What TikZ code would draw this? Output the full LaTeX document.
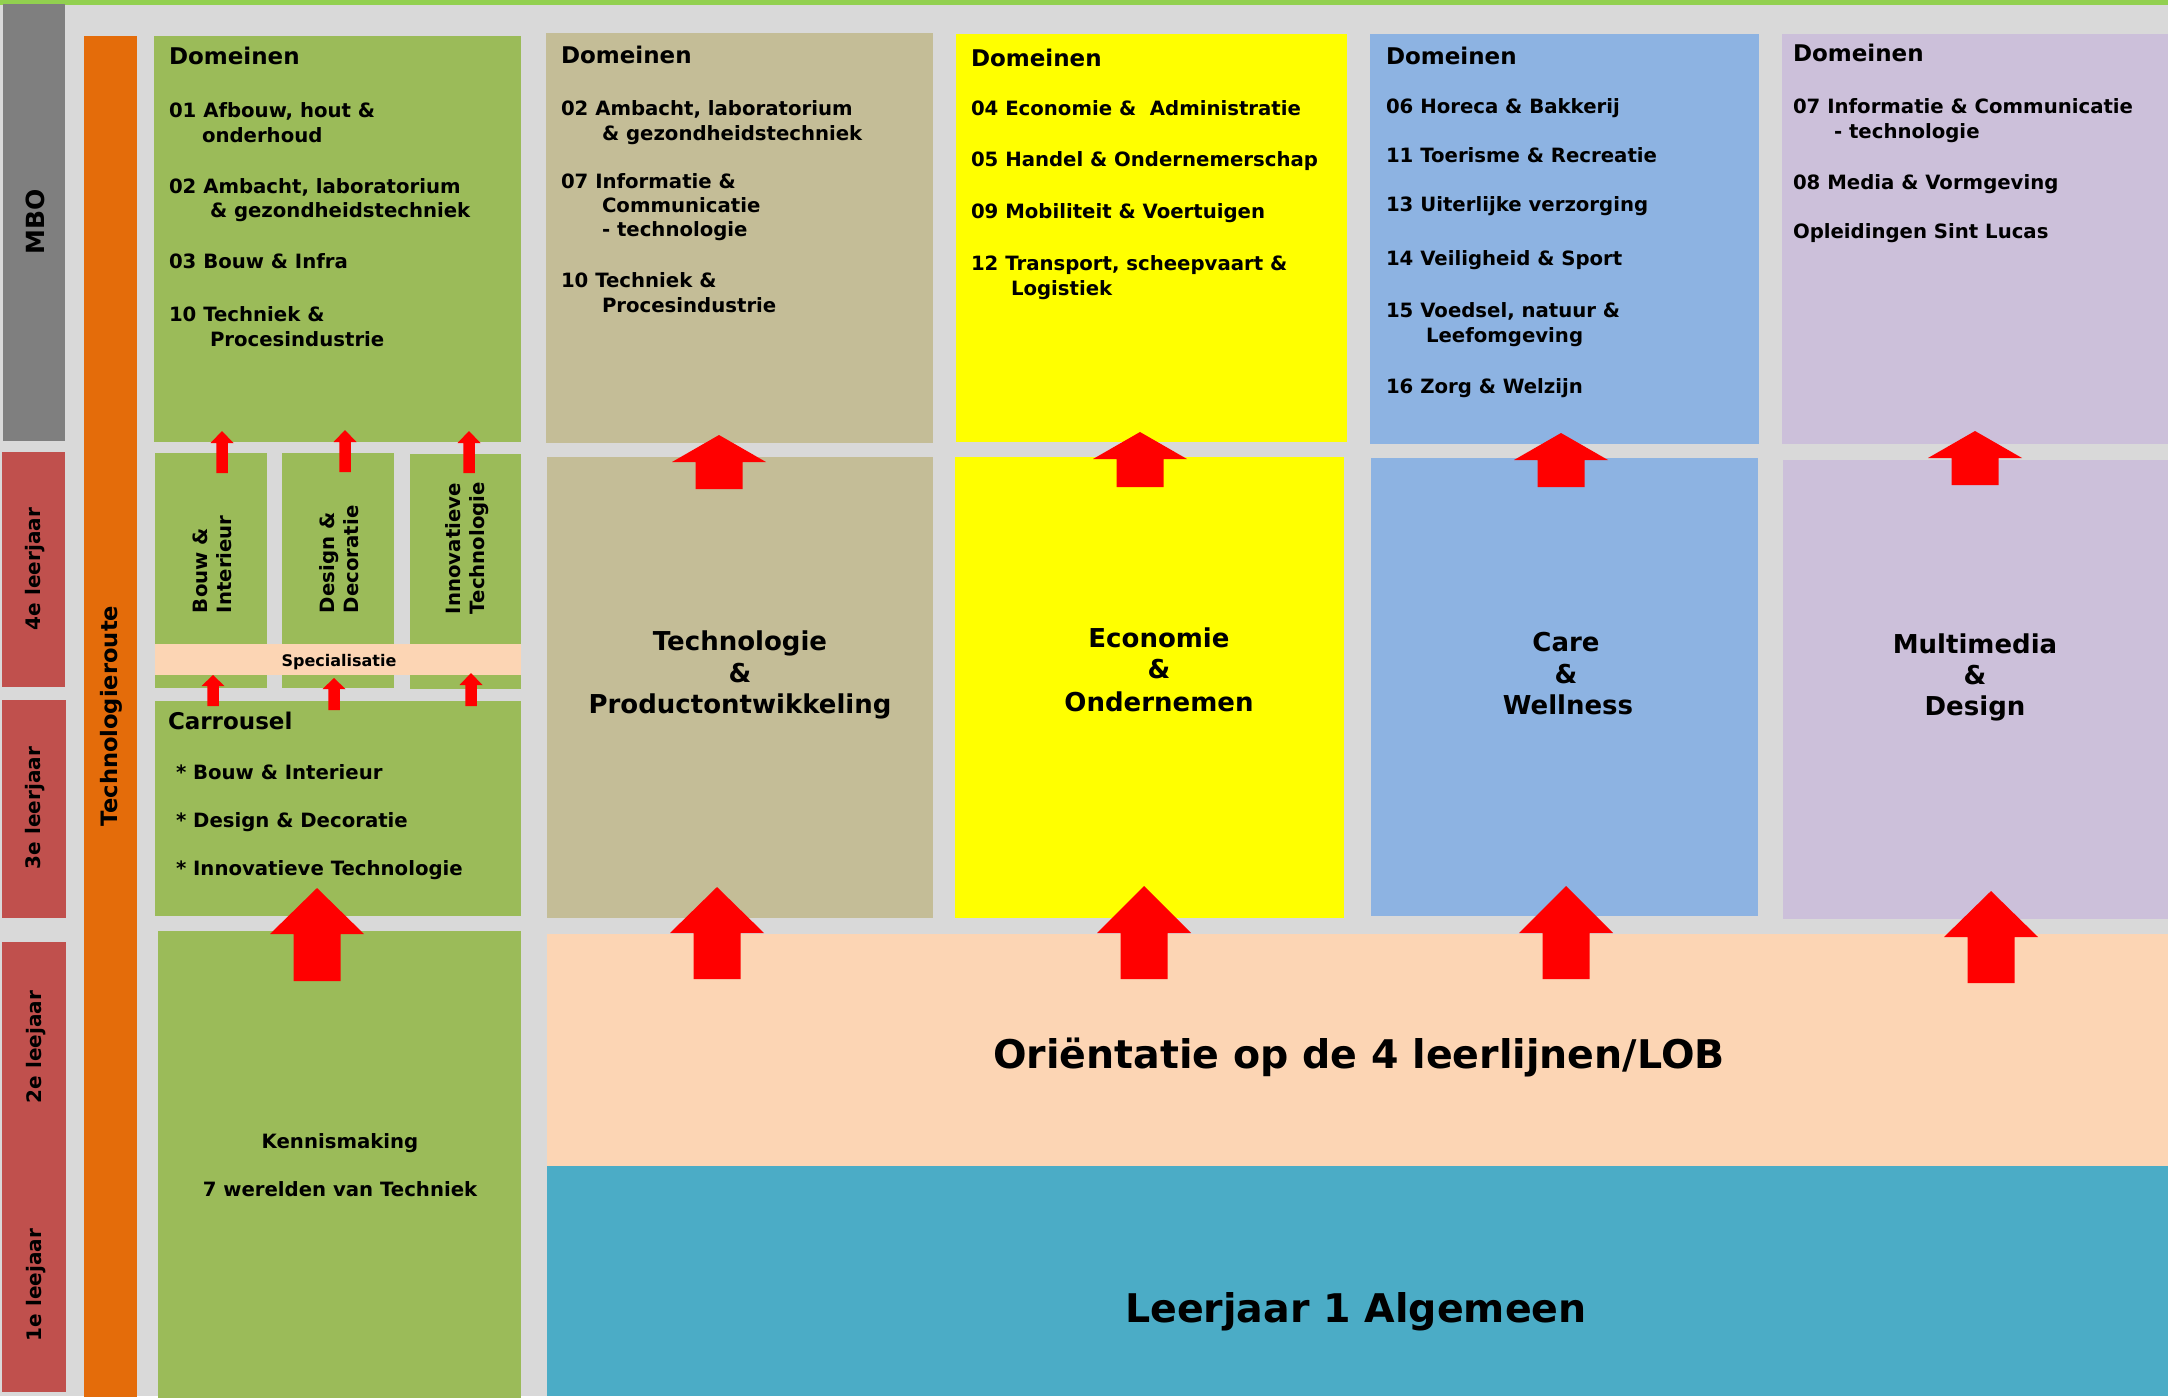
\documentclass[tikz,border=0pt]{standalone}
\usepackage{fontspec}
\setmainfont{DejaVu Sans}
\definecolor{bggray}{HTML}{D9D9D9}
\definecolor{topgreen}{HTML}{92D050}
\definecolor{mbogray}{HTML}{7F7F7F}
\definecolor{labred}{HTML}{C0504D}
\definecolor{routeor}{HTML}{E46C0A}
\definecolor{grn}{HTML}{9BBB59}
\definecolor{tan}{HTML}{C4BD97}
\definecolor{yel}{HTML}{FFFF00}
\definecolor{blu}{HTML}{8DB3E2}
\definecolor{lil}{HTML}{CCC0DA}
\definecolor{peach}{HTML}{FCD5B4}
\definecolor{teal}{HTML}{4BACC6}
\definecolor{arrred}{HTML}{FF0000}
\tikzset{
  blk/.style={inner sep=0pt, outer sep=0pt, draw=none},
  txt/.style={inner sep=0pt, outer sep=0pt, text=black, font=\bfseries\fontsize{19.7}{24}\selectfont},
  hdr/.style={txt, font=\bfseries\fontsize{23}{28}\selectfont},
  spc/.style={txt, font=\bfseries\fontsize{16}{19}\selectfont},
  bigt/.style={txt, font=\bfseries\fontsize{26}{31}\selectfont},
  hugetxt/.style={txt, font=\bfseries\fontsize{39.5}{46}\selectfont},
  arrowfill/.style={fill=arrred, draw=none},
}
% box: name, colour, x1, y1, x2, y2
\newcommand\blk[6]{\node[blk, fill=#2, minimum width={(#5)-(#3)}, minimum height={(#6)-(#4)}, anchor=north west] (#1) at (#3,#4) {};}
% left aligned text line: style, name, x, baseline y, text
\newcommand\txtline[5]{\node[#1, anchor=base west] (#2) at (#3,#4) {#5};}
% centred text line
\newcommand\ctxtline[5]{\node[#1, anchor=base] (#2) at (#3,#4) {#5};}
% block arrow: name, x, tip y, head base y, bottom y, head half width, shaft half width
\newcommand\blockarrow[7]{%
  \coordinate (#1-tip) at (#2,#3);
  \coordinate (#1-foot) at (#2,#5);
  \fill[arrowfill] (#1-tip) -- (#2+#6,#4) -- (#2+#7,#4) -- (#2+#7,#5) -- (#1-foot) -- (#2-#7,#5) -- (#2-#7,#4) -- (#2-#6,#4) -- cycle;}
\begin{document}
\begin{tikzpicture}[x=1pt, y=-1pt]
\useasboundingbox (0,0) rectangle (2168,1398);
\fill[bggray] (0,0) rectangle (2168,1396);
\fill[topgreen] (0,0) rectangle (2168,5);

% boxes
\blk{mbo}{mbogray}{3}{4}{65}{441}
\blk{y4}{labred}{2}{452}{65}{687}
\blk{y3}{labred}{2}{700}{66}{918}
\blk{y12}{labred}{2}{942}{66}{1392}
\blk{route}{routeor}{84}{36}{137}{1397}
\blk{gdom}{grn}{154}{36}{521}{442}
\blk{sbouw}{grn}{155}{453}{267}{688}
\blk{sdesign}{grn}{282}{453}{394}{688}
\blk{sinnov}{grn}{410}{454}{521}{689}
\blk{spec}{peach}{155}{644}{521}{675}
\blk{carr}{grn}{155}{701}{521}{916}
\blk{kenn}{grn}{158}{931}{521}{1398}
\blk{tandom}{tan}{546}{33}{933}{443}
\blk{tanlow}{tan}{547}{457}{933}{918}
\blk{yeldom}{yel}{956}{34}{1347}{442}
\blk{yellow}{yel}{955}{457}{1344}{918}
\blk{bludom}{blu}{1370}{34}{1759}{444}
\blk{blulow}{blu}{1371}{458}{1758}{916}
\blk{lildom}{lil}{1782}{34}{2168}{444}
\blk{lillow}{lil}{1783}{460}{2168}{919}
\blk{orient}{peach}{547}{934}{2168}{1166}
\blk{alg}{teal}{547}{1166}{2168}{1396}

% arrows
\blockarrow{sa1}{222}{431}{443}{473}{11.5}{5.75}
\blockarrow{sa2}{345}{430}{442}{472}{11.5}{5.75}
\blockarrow{sa3}{469}{431}{443}{473}{11.5}{5.75}
\blockarrow{sb1}{213}{675}{686}{706}{11.5}{5.75}
\blockarrow{sb2}{334}{678}{689}{710}{11.5}{5.75}
\blockarrow{sb3}{471}{673}{685}{706}{11.5}{5.75}
\blockarrow{bc}{317}{888}{934}{981}{47}{23.5}
\blockarrow{ta}{719}{435}{462}{489}{47}{23.5}
\blockarrow{ya}{1140}{432}{459}{487}{47}{23.5}
\blockarrow{ba}{1561}{433}{460}{487}{47}{23.5}
\blockarrow{la}{1975}{431}{458}{485}{47}{23.5}
\blockarrow{tb}{717}{887}{933}{979}{47}{23.5}
\blockarrow{yb}{1144}{886}{933}{979}{47}{23.5}
\blockarrow{bb}{1566}{886}{933}{979}{47}{23.5}
\blockarrow{lb}{1991}{891}{937}{983}{47}{23.5}

% side labels
\node[txt, rotate=90, font=\bfseries\fontsize{25}{30}\selectfont] (lmbo) at (35,222) {MBO};
\node[txt, rotate=90, font=\bfseries\fontsize{20}{24}\selectfont] (l4) at (35,569) {4e leerjaar};
\node[txt, rotate=90, font=\bfseries\fontsize{20}{24}\selectfont] (l3) at (35,808) {3e leerjaar};
\node[txt, rotate=90, font=\bfseries\fontsize{20}{24}\selectfont] (l2) at (36,1047) {2e leejaar};
\node[txt, rotate=90, font=\bfseries\fontsize{20}{24}\selectfont] (l1) at (36,1285) {1e leejaar};
\node[txt, rotate=90, font=\bfseries\fontsize{22.6}{26}\selectfont] (lroute) at (111,716) {Technologieroute};

% green domeinen
\txtline{hdr}{g0}{169}{64}{Domeinen}
\txtline{txt}{g1}{169}{117}{01 Afbouw, hout \&}
\txtline{txt}{g1b}{202}{142}{onderhoud}
\txtline{txt}{g2}{169}{193}{02 Ambacht, laboratorium}
\txtline{txt}{g2b}{210}{217}{\& gezondheidstechniek}
\txtline{txt}{g3}{169}{268}{03 Bouw \& Infra}
\txtline{txt}{g4}{169}{321}{10 Techniek \&}
\txtline{txt}{g4b}{210}{346}{Procesindustrie}

% tan domeinen
\txtline{hdr}{t0}{561}{63}{Domeinen}
\txtline{txt}{t1}{561}{115}{02 Ambacht, laboratorium}
\txtline{txt}{t1b}{602}{140}{\& gezondheidstechniek}
\txtline{txt}{t2}{561}{188}{07 Informatie \&}
\txtline{txt}{t2b}{602}{212}{Communicatie}
\txtline{txt}{t2c}{602}{236}{- technologie}
\txtline{txt}{t3}{561}{287}{10 Techniek \&}
\txtline{txt}{t3b}{602}{312}{Procesindustrie}

% yellow domeinen
\txtline{hdr}{e0}{971}{66}{Domeinen}
\txtline{txt}{e1}{971}{115}{04 Economie \&\ \ Administratie}
\txtline{txt}{e2}{971}{166}{05 Handel \& Ondernemerschap}
\txtline{txt}{e3}{971}{218}{09 Mobiliteit \& Voertuigen}
\txtline{txt}{e4}{971}{270}{12 Transport, scheepvaart \&}
\txtline{txt}{e4b}{1011}{295}{Logistiek}

% blue domeinen
\txtline{hdr}{c0}{1386}{64}{Domeinen}
\txtline{txt}{c1}{1386}{113}{06 Horeca \& Bakkerij}
\txtline{txt}{c2}{1386}{162}{11 Toerisme \& Recreatie}
\txtline{txt}{c3}{1386}{211}{13 Uiterlijke verzorging}
\txtline{txt}{c4}{1386}{265}{14 Veiligheid \& Sport}
\txtline{txt}{c5}{1386}{317}{15 Voedsel, natuur \&}
\txtline{txt}{c5b}{1426}{342}{Leefomgeving}
\txtline{txt}{c6}{1386}{393}{16 Zorg \& Welzijn}

% lilac domeinen
\txtline{hdr}{m0}{1793}{61}{Domeinen}
\txtline{txt}{m1}{1793}{113}{07 Informatie \& Communicatie}
\txtline{txt}{m1b}{1834}{138}{- technologie}
\txtline{txt}{m2}{1793}{189}{08 Media \& Vormgeving}
\txtline{txt}{m3}{1793}{238}{Opleidingen Sint Lucas}

% specialisatie sub boxes
\node[txt, rotate=90, align=left, anchor=west] (tbouw) at (212,613) {Bouw \&\\Interieur};
\node[txt, rotate=90, align=left, anchor=west] (tdesign) at (339,613) {Design \&\\Decoratie};
\node[txt, rotate=90, align=left, anchor=west] (tinnov) at (467,614) {Innovatieve\\Technologie};
\ctxtline{spc}{tspec}{339}{666}{Specialisatie}

% carrousel
\txtline{hdr}{k0}{168}{729}{Carrousel}
\txtline{txt}{k1}{176}{779}{* Bouw \& Interieur}
\txtline{txt}{k2}{176}{827}{* Design \& Decoratie}
\txtline{txt}{k3}{176}{875}{* Innovatieve Technologie}

% kennismaking
\ctxtline{txt}{n1}{340}{1148}{Kennismaking}
\ctxtline{txt}{n2}{340}{1196}{7 werelden van Techniek}

% leerlijnen
\ctxtline{bigt}{p1}{740}{650}{Technologie}
\ctxtline{bigt}{p2}{740}{682}{\&}
\ctxtline{bigt}{p3}{740}{713}{Productontwikkeling}
\ctxtline{bigt}{q1}{1159}{647}{Economie}
\ctxtline{bigt}{q2}{1159}{678}{\&}
\ctxtline{bigt}{q3}{1159}{711}{Ondernemen}
\ctxtline{bigt}{r1}{1566}{651}{Care}
\ctxtline{bigt}{r2}{1566}{683}{\&}
\ctxtline{bigt}{r3}{1568}{714}{Wellness}
\ctxtline{bigt}{s1}{1975}{653}{Multimedia}
\ctxtline{bigt}{s2}{1975}{684}{\&}
\ctxtline{bigt}{s3}{1975}{715}{Design}

% bottom bands
\ctxtline{hugetxt}{o1}{1359}{1068}{Oriëntatie op de 4 leerlijnen/LOB}
\ctxtline{hugetxt}{a1}{1356}{1322}{Leerjaar 1 Algemeen}
\end{tikzpicture}
\end{document}
